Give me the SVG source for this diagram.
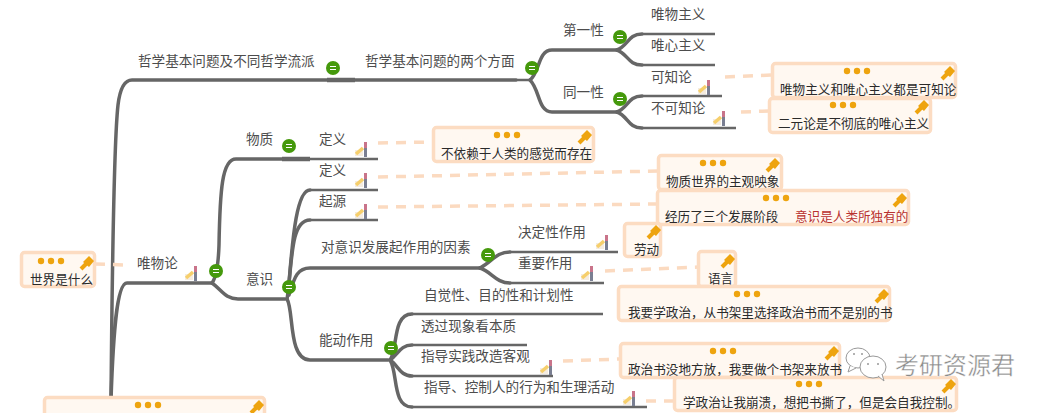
<svg xmlns="http://www.w3.org/2000/svg" width="1058" height="413" viewBox="0 0 1058 413">
<style>
text{font-family:"Noto Sans CJK SC","Noto Sans",sans-serif}
.l{font-size:13.6px;fill:#4d4d4d}
.n{font-size:12.6px;fill:#2a2a2a}
.r{fill:#b8312f}
.box{fill:#fff8f1;stroke:#fcdcc2;stroke-width:3.500}
.c{fill:none;stroke:#666;stroke-width:2.500}
.t{fill:none;stroke:#666;stroke-width:3.500;stroke-linecap:round}
.b{fill:none;stroke:#666;stroke-width:4.500}
.d{fill:none;stroke:#fbdac0;stroke-width:3.500;stroke-dasharray:10 8}
.g{fill:#45990c}
.g2{stroke:#fff;stroke-width:1}
.dot{fill:#eea40f}
.w{font-size:24px;fill:#8a8a8a;stroke:#fff;stroke-width:.4}
</style>
<defs>
<g id="i"><rect x="-9" y="8" width="8" height="6" fill="#f5ece0"/><path d="M-8 12L-1 6" stroke="#f6cf6c" stroke-width="3.500"/><rect x="0" y="0" width="3" height="6" fill="#c9748a"/><rect x="0" y="6" width="3" height="9" fill="#7a7f92"/></g>
<g id="s"><circle r="7" class="g"/><path d="M-3-1.500H3M-3 1.500H3" class="g2"/></g>
<g id="p"><path d="M-6 6L0 0" stroke="#eea40f" stroke-width="4"/><path d="M-4-1L2-7L7-2L2 4Z" fill="#eea40f"/></g>
<g id="m"><circle cx="-10" r="3.200" class="dot"/><circle r="3.200" class="dot"/><circle cx="10" r="3.200" class="dot"/></g>
</defs>
<g id="connectors">
<path class="t" d="M111 400C112 300 113 150 118 105Q121 80 132 80H516"/>
<path class="c" d="M516 80H530"/><path class="b" d="M327 80H355"/>
<path class="t" d="M111 400C113 340 116 283 127 283H212"/>
<path class="t" d="M212 283Q218 275 219 245C220 190 222 159 236 159H282"/>
<path class="b" d="M282 159H310"/><path class="c" d="M310 159H378"/>
<path class="t" d="M212 283C222 290 225 299 238 299H285"/>
<path class="t" d="M287 299C291 280 292 190 310 190"/><path class="c" d="M310 190H378"/>
<path class="t" d="M288 295C292 250 293 220 310 220"/><path class="c" d="M310 220H378"/>
<path class="t" d="M289 295C294 280 296 268 310 268H480"/>
<path class="t" d="M287 299C294 310 288 360 310 360H388"/>
<path class="t" d="M480 268C492 262 496 252 510 252"/><path class="c" d="M510 252H618"/>
<path class="t" d="M480 268C492 272 496 283 510 283"/><path class="c" d="M510 283H604"/>
<path class="t" d="M390 360C398 350 392 314 412 314"/><path class="c" d="M412 314H603"/>
<path class="t" d="M390 360C398 355 400 345 412 345"/><path class="c" d="M412 345H527"/>
<path class="t" d="M390 360C398 365 400 376 412 376"/><path class="c" d="M412 376H553"/>
<path class="t" d="M390 360C398 372 392 407 412 407"/><path class="c" d="M412 407H647"/>
<path class="t" d="M530 80C540 72 538 50 552 50H617"/>
<path class="t" d="M530 80C540 90 538 112 552 112H617"/>
<path class="t" d="M617 50C628 46 628 34 642 34"/><path class="c" d="M642 34H715"/>
<path class="t" d="M617 50C628 54 628 65 642 65"/><path class="c" d="M642 65H715"/>
<path class="t" d="M617 112C628 108 628 96 642 96"/><path class="c" d="M642 96H722"/>
<path class="t" d="M617 112C628 116 628 128 642 128"/><path class="c" d="M642 128H736"/>
<path class="d" d="M725 77L772 75"/><path class="d" d="M741 112L769 111"/>
<path class="d" d="M378 143L433 142"/><path class="d" d="M378 177L658 171"/><path class="d" d="M378 207L657 204"/>
<path class="d" d="M605 271L698 267"/><path class="d" d="M563 361L620 359"/><path class="d" d="M646 401L674 401"/>
<path class="d" d="M95 264L124 265"/>
</g>
<g id="icons">
<use href="#i" x="707" y="80"/><use href="#i" x="722" y="111"/><use href="#i" x="364" y="142"/><use href="#i" x="364" y="173"/><use href="#i" x="364" y="204"/><use href="#i" x="194" y="266"/><use href="#i" x="605" y="235"/><use href="#i" x="590" y="266"/><use href="#i" x="549" y="360"/><use href="#i" x="632" y="391"/>
<use href="#s" x="333" y="68"/><use href="#s" x="532" y="68"/><use href="#s" x="620" y="37"/><use href="#s" x="620" y="99"/><use href="#s" x="289" y="146"/><use href="#s" x="488" y="255"/><use href="#s" x="216" y="271"/><use href="#s" x="289" y="287"/><use href="#s" x="391" y="348"/>
</g>
<g id="labels">
<text class="l" x="138" y="66">哲学基本问题及不同哲学流派</text>
<text class="l" x="365" y="66">哲学基本问题的两个方面</text>
<text class="l" x="563" y="35">第一性</text><text class="l" x="563" y="97">同一性</text>
<text class="l" x="651" y="19">唯物主义</text><text class="l" x="651" y="50">唯心主义</text><text class="l" x="651" y="82">可知论</text><text class="l" x="651" y="113">不可知论</text>
<text class="l" x="246" y="144">物质</text><text class="l" x="319" y="144">定义</text><text class="l" x="319" y="175">定义</text><text class="l" x="319" y="206">起源</text>
<text class="l" x="137" y="268">唯物论</text><text class="l" x="246" y="284">意识</text>
<text class="l" x="321" y="252">对意识发展起作用的因素</text><text class="l" x="518" y="237">决定性作用</text><text class="l" x="518" y="268">重要作用</text>
<text class="l" x="319" y="345">能动作用</text>
<text class="l" x="424" y="300">自觉性、目的性和计划性</text><text class="l" x="421" y="331">透过现象看本质</text><text class="l" x="421" y="361">指导实践改造客观</text><text class="l" x="424" y="392">指导、控制人的行为和生理活动</text>
</g>
<g id="note-world"><rect class="box" x="21.500" y="252.500" width="73" height="34" rx="3"/><use href="#m" x="51" y="261"/><use href="#p" x="87" y="263"/><text class="n" x="30" y="284">世界是什么</text></g>
<g id="note-agn"><rect class="box" x="772.500" y="63.500" width="183" height="34" rx="3"/><use href="#m" x="857" y="71"/><use href="#p" x="948" y="73"/><text class="n" x="780" y="94">唯物主义和唯心主义都是可知论</text></g>
<g id="note-dual"><rect class="box" x="769.500" y="98.500" width="161" height="34" rx="3"/><use href="#m" x="843" y="105"/><use href="#p" x="922" y="107"/><text class="n" x="778" y="128">二元论是不彻底的唯心主义</text></g>
<g id="note-matter"><rect class="box" x="433.500" y="127.500" width="160" height="34" rx="3"/><use href="#m" x="507" y="135"/><use href="#p" x="585" y="137"/><text class="n" x="441" y="158">不依赖于人类的感觉而存在</text></g>
<g id="note-mind"><rect class="box" x="658.500" y="155.500" width="123" height="34" rx="3"/><use href="#m" x="713" y="163"/><use href="#p" x="773" y="165"/><text class="n" x="666" y="186">物质世界的主观映象</text></g>
<g id="note-origin"><rect class="box" x="657.500" y="190.500" width="251" height="34" rx="3"/><use href="#m" x="776" y="198"/><use href="#p" x="900" y="200"/><text class="n" x="665" y="221">经历了三个发展阶段</text><text class="n r" x="795" y="221">意识是人类所独有的</text></g>
<g id="note-labor"><rect class="box" x="624.500" y="223.500" width="36" height="33" rx="3"/><use href="#p" x="654" y="232"/><text class="n" x="634" y="254">劳动</text></g>
<g id="note-lang"><rect class="box" x="698.500" y="251.500" width="37" height="35" rx="3"/><use href="#p" x="728" y="261"/><text class="n" x="708" y="283">语言</text></g>
<g id="note-choose"><rect class="box" x="618.500" y="286.500" width="271" height="34" rx="3"/><use href="#m" x="747" y="294"/><use href="#p" x="882" y="296"/><text class="n" x="628" y="317">我要学政治，从书架里选择政治书而不是别的书</text></g>
<g id="note-shelf"><rect class="box" x="620.500" y="343.500" width="219" height="34" rx="3"/><use href="#m" x="723" y="351"/><use href="#p" x="832" y="353"/><text class="n" x="628" y="374">政治书没地方放，我要做个书架来放书</text></g>
<g id="note-control"><rect class="box" x="674.500" y="377.500" width="282" height="33" rx="3"/><use href="#m" x="809" y="384"/><use href="#p" x="949" y="386"/><text class="n" x="683" y="407">学政治让我崩溃，想把书撕了，但是会自我控制。</text></g>
<g id="note-bottom"><rect class="box" x="44.500" y="397.500" width="220" height="30" rx="3"/><use href="#m" x="148" y="405"/><use href="#p" x="257" y="407"/></g>
<g id="watermark">
<ellipse cx="858" cy="358" rx="12" ry="10" fill="#fff" stroke="#999"/>
<path d="M850 366L848 372L856 368" fill="#fff" stroke="#999"/>
<ellipse cx="873" cy="367" rx="13" ry="11" fill="#fff" stroke="#999"/>
<path d="M878 376L884 381L882 374" fill="#fff" stroke="#999"/>
<circle cx="868" cy="364" r="1" fill="#999"/><circle cx="878" cy="364" r="1" fill="#999"/><circle cx="854" cy="354" r="1" fill="#999"/><circle cx="862" cy="354" r="1" fill="#999"/>
<text class="w" x="895" y="374">考研资源君</text>
</g>
</svg>
